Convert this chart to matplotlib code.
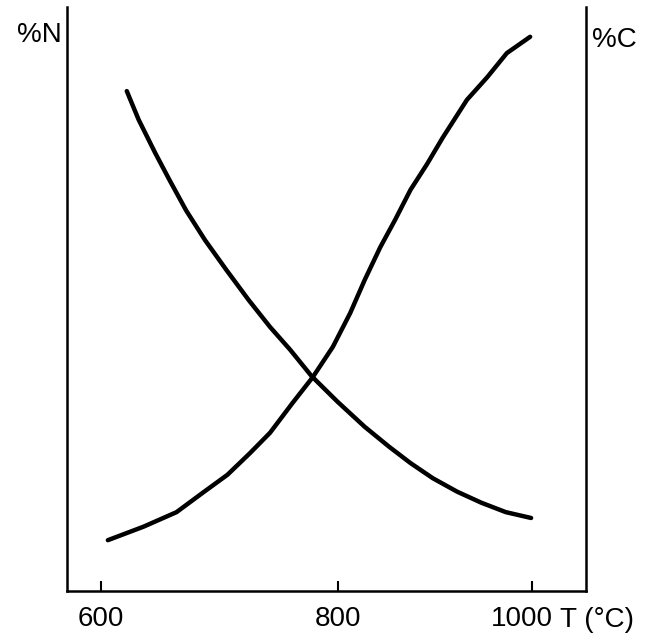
import numpy as np
import matplotlib
matplotlib.use('Agg')
import matplotlib.pyplot as plt
from matplotlib.transforms import ScaledTranslation

# temperatura (°C) y contenido relativo
t_n = [622, 632, 646, 658, 672, 688, 706, 725, 743, 760, 778,
       800, 828, 853, 875, 898, 923, 948, 973, 999]
pct_n = [85.6, 80.7, 75.0, 70.4, 65.2, 60.1, 55.0, 49.8, 45.2, 41.3, 36.8,
         32.4, 28.1, 24.7, 21.9, 19.3, 17.0, 15.1, 13.5, 12.5]

t_c = [606, 636, 664, 686, 707, 726, 743, 762, 779, 796, 813, 828,
       844, 859, 875, 892, 908, 933, 954, 974, 998]
pct_c = [8.7, 11.0, 13.5, 16.8, 19.9, 23.6, 27.1, 32.2, 36.6, 41.8, 47.6, 53.3,
         58.9, 63.5, 68.7, 73.1, 77.6, 84.1, 88.0, 92.1, 94.9]

ticks = [600, 800, 1000]
tick_labels = ['600', '800', '1000']

# el eje del dibujo no es lineal: 600-800 ocupa mas que 800-1000
t_nodes = [500, 600, 800, 1000, 1100]
pos_nodes = [-118.4, 0.0, 236.8, 431.3, 528.5]

def fwd(t):
  return np.interp(t, t_nodes, pos_nodes)

def inv(p):
  return np.interp(p, pos_nodes, t_nodes)

plt.rcParams['font.family'] = ['Liberation Sans', 'DejaVu Sans']
fs = 20

fig = plt.figure(figsize=(6.55, 6.43), dpi=100)
ax = fig.add_axes([0.1023, 0.0809, 0.7924, 0.9082])

ax.set_xscale('function', functions=(fwd, inv))
ax.plot(t_n, pct_n, color='black', lw=3.2, solid_capstyle='round', solid_joinstyle='round')
ax.plot(t_c, pct_c, color='black', lw=3.2, solid_capstyle='round', solid_joinstyle='round')

ax.set_xlim(571.5, 1055.5)
ax.set_ylim(0, 100)

ax.spines['top'].set_visible(False)
for s in ['left', 'right', 'bottom']:
  ax.spines[s].set_linewidth(1.8)

ax.set_xticks(ticks)
ax.set_xticklabels(tick_labels)
ax.minorticks_off()
ax.tick_params(axis='x', direction='in', length=7, width=1.5, pad=11, labelsize=fs)
ax.set_yticks([])

# la etiqueta 1000 queda algo a la izquierda de su marca
lbl = ax.get_xticklabels()[-1]
lbl.set_transform(lbl.get_transform() + ScaledTranslation(-7 / 72, 0, fig.dpi_scale_trans))

fig.text(62 / 655, 1 - 35 / 643, '%N', ha='right', va='center', fontsize=fs)
fig.text(592 / 655, 1 - 40 / 643, '%C', ha='left', va='center', fontsize=fs)
fig.text(560 / 655, 1 - 620 / 643, 'T (°C)', ha='left', va='center', fontsize=fs)

fig.savefig('out.png', dpi=100)
